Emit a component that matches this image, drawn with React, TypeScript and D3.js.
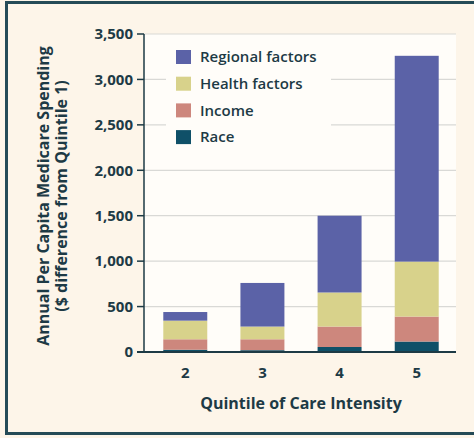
import React from "react";
import * as d3 from "d3";

const quintiles = ["2", "3", "4", "5"];
const race = [25, 20, 55, 115];
const income = [115, 120, 225, 275];
const health = [205, 140, 375, 605];
const regional = [95, 480, 845, 2265];
const seriesNames = ["Race", "Income", "Health factors", "Regional factors"];
const seriesColors = ["#0f5068", "#cd877d", "#d8d28b", "#5b62a7"];
const legendOrder = ["Regional factors", "Health factors", "Income", "Race"];
const yTicks = [0, 500, 1000, 1500, 2000, 2500, 3000, 3500];

const W = 474;
const H = 438;
const FONT = "'Open Sans', sans-serif";
const INK = "#1d3a45";

export default function App() {
  const x = d3.scaleBand<string>().domain(quintiles).range([144, 458]).paddingInner(0.43).paddingOuter(0.25);
  const y = d3.scaleLinear().domain([0, 3500]).range([352, 34]);
  const rows = quintiles.map((q, i) => ({
    q,
    Race: race[i],
    Income: income[i],
    "Health factors": health[i],
    "Regional factors": regional[i],
  }));
  const stack = d3.stack<any>().keys(seriesNames)(rows);
  const color = d3.scaleOrdinal<string, string>().domain(seriesNames).range(seriesColors);
  const fmt = d3.format(",");
  const plotLeft = 144;
  const plotRight = 456;

  return (
    <svg width={W} height={H} style={{ position: "absolute", left: 0, top: 0 }}>
      <rect x={0} y={0} width={W} height={H} fill="#fdf5e9" />
      <rect x={6.5} y={2.5} width={W} height={431} fill="none" stroke="#254b57" strokeWidth={3} />
      <rect x={plotLeft} y={y(3500)} width={plotRight - plotLeft} height={y(0) - y(3500)} fill="#fffdf9" />
      {yTicks.filter((t) => t > 0).map((t) => (
        <line key={t} x1={plotLeft} x2={plotRight} y1={y(t)} y2={y(t)} stroke="#d9d9d6" strokeWidth={1.2} />
      ))}
      <rect x={166} y={40} width={165} height={116} fill="#fffdf9" />
      {stack.map((s) => (
        <g key={s.key} fill={color(s.key)}>
          {s.map((d, i) => (
            <rect
              key={i}
              x={x(quintiles[i])}
              width={x.bandwidth()}
              y={y(d[1])}
              height={y(d[0]) - y(d[1])}
            />
          ))}
        </g>
      ))}
      <line x1={plotLeft} x2={plotLeft} y1={y(3500)} y2={y(0)} stroke={INK} strokeWidth={1.5} />
      <line x1={137} x2={plotRight} y1={y(0)} y2={y(0)} stroke={INK} strokeWidth={2} />
      {yTicks.map((t) => (
        <g key={t}>
          <line x1={137} x2={plotLeft} y1={y(t)} y2={y(t)} stroke={INK} strokeWidth={1.5} />
          <text x={133} y={y(t)} dy="0.35em" textAnchor="end" fontFamily={FONT} fontWeight={700} fontSize={15} fill={INK}>
            {fmt(t)}
          </text>
        </g>
      ))}
      {quintiles.map((q) => (
        <text key={q} x={(x(q) as number) + x.bandwidth() / 2} y={378} textAnchor="middle" fontFamily={FONT} fontWeight={700} fontSize={15} fill={INK}>
          {q}
        </text>
      ))}
      <text x={301} y={409} textAnchor="middle" fontFamily={FONT} fontWeight={700} fontSize={16} fill={INK}>
        Quintile of Care Intensity
      </text>
      <g transform="translate(49,196) rotate(-90)">
        <text x={0} y={0} textAnchor="middle" fontFamily={FONT} fontWeight={700} fontSize={16} fill={INK}>
          Annual Per Capita Medicare Spending
        </text>
        <text x={0} y={18} textAnchor="middle" fontFamily={FONT} fontWeight={700} fontSize={16} fill={INK}>
          ($ difference from Quintile 1)
        </text>
      </g>
      {legendOrder.map((name, i) => (
        <g key={name} transform={`translate(176,${50 + i * 26.7})`}>
          <rect x={0} y={0} width={15} height={14} fill={color(name)} />
          <text x={24} y={7} dy="0.35em" fontFamily={FONT} fontWeight={600} fontSize={15} fill={INK}>
            {name}
          </text>
        </g>
      ))}
    </svg>
  );
}
